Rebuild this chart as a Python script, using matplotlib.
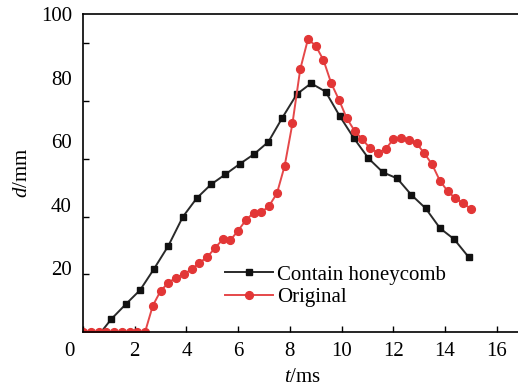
import matplotlib
matplotlib.use("Agg")
import matplotlib.pyplot as plt
import matplotlib.transforms as mtransforms

plt.rcParams['font.family'] = ['Liberation Serif', 'DejaVu Serif']
plt.rcParams['mathtext.fontset'] = 'custom'
plt.rcParams['mathtext.it'] = 'Liberation Serif:italic'
plt.rcParams['mathtext.rm'] = 'Liberation Serif'

# Data
t_honey = [0.0, 0.7, 1.10, 1.65, 2.21, 2.75, 3.30, 3.86, 4.40, 4.95, 5.51, 6.07, 6.61, 7.17,
           7.71, 8.27, 8.82, 9.38, 9.92, 10.48, 11.04, 11.60, 12.15, 12.70, 13.25, 13.81,
           14.35, 14.92]
d_honey = [0, 0, 4.1, 8.7, 13.2, 19.9, 27.1, 36.2, 42.1, 46.4, 49.6, 52.9, 55.9, 59.8,
           67.4, 74.8, 78.2, 75.6, 68.0, 60.9, 54.6, 50.2, 48.3, 43.1, 38.9, 32.6, 29.2, 23.5]

t_orig = [0.0, 0.3, 0.6, 0.9, 1.2, 1.5, 1.8, 2.1, 2.4,
          2.7, 3.0, 3.3, 3.6, 3.9, 4.2, 4.5, 4.8, 5.1, 5.4, 5.7, 6.0, 6.3, 6.6, 6.9, 7.2,
          7.5, 7.8, 8.1, 8.4, 8.7, 9.0, 9.3, 9.6, 9.9, 10.2, 10.5, 10.8, 11.1, 11.4, 11.7,
          12.0, 12.3, 12.6, 12.9, 13.2, 13.5, 13.8, 14.1, 14.4, 14.7, 15.0]
d_orig = [0, 0, 0, 0, 0, 0, 0, 0, 0,
          8.3, 12.9, 15.5, 17.1, 18.2, 19.7, 21.8, 23.5, 26.4, 29.1, 28.9, 31.9, 35.2, 37.5,
          37.6, 39.7, 43.6, 52.3, 65.6, 82.6, 92.1, 90.0, 85.5, 78.2, 73.0, 67.2, 63.3, 60.6,
          57.8, 56.4, 57.5, 60.6, 60.9, 60.4, 59.3, 56.2, 52.7, 47.6, 44.3, 42.0, 40.5, 38.7]

x_ticks = [0, 2, 4, 6, 8, 10, 12, 14, 16]
y_ticks = [20, 40, 60, 80, 100]
y_tick_marks = [18.2, 36.2, 54.4, 72.6, 90.9]

fig = plt.figure(figsize=(5.18, 3.89), dpi=100)
ax = fig.add_axes([83/518, 57/389, 439.6/518, 318/389])

ax.plot(t_honey, d_honey, color='#2a2a2a', lw=1.4, marker='s', ms=4.6,
        mfc='#111111', mec='#111111', markevery=list(range(2, len(t_honey))),
        label='Contain honeycomb')
ax.plot(t_orig, d_orig, color='#e5484a', lw=1.4, marker='o', ms=5.6,
        mfc='#e23636', mec='#e23636', label='Original')

ax.set_xlim(0, 17)
ax.set_ylim(0, 100)
ax.set_xticks(x_ticks)
ax.set_yticks(y_ticks)
ax.set_yticks(y_tick_marks, minor=True)
ax.tick_params(axis='x', which='major', direction='in', length=4, width=1,
               labelsize=15, pad=7)
ax.tick_params(axis='y', which='major', length=0, labelsize=15, pad=8)
ax.tick_params(axis='y', which='minor', direction='in', length=4, width=1)
ax.tick_params(axis='x', which='minor', bottom=False)
ax.spines['right'].set_visible(False)
for s in ['left', 'bottom', 'top']:
    ax.spines[s].set_linewidth(1.2)

# shift the "0" x label a little to the left, as in the reference
lbl0 = ax.get_xticklabels()[0]
lbl0.set_transform(lbl0.get_transform() +
                   mtransforms.ScaledTranslation(-14/100, 0, fig.dpi_scale_trans))

ax.set_xlabel('$t$/ms', fontsize=15, labelpad=5)
ax.set_ylabel('$d$/mm', fontsize=15, labelpad=6)

ax.legend(loc='upper left', bbox_to_anchor=(225/518, 1 - 265/389),
          bbox_transform=fig.transFigure, frameon=False, fontsize=15,
          borderpad=0, borderaxespad=0, handlelength=2.3, handletextpad=0.2,
          labelspacing=0.15)

fig.savefig('out.png', dpi=100)
